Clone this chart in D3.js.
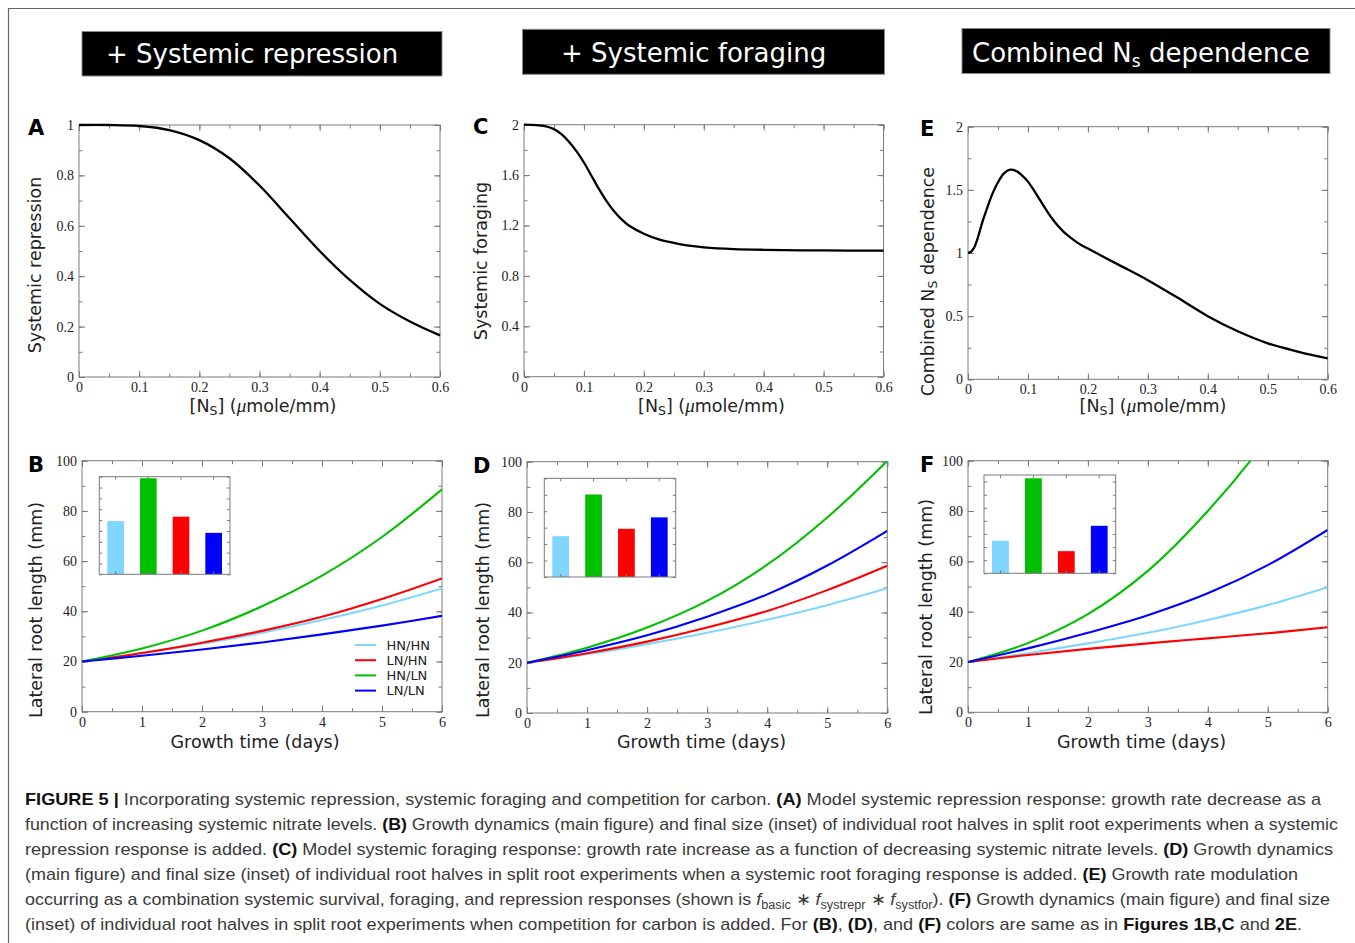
<!DOCTYPE html>
<html>
<head>
<meta charset="utf-8">
<script src="https://cdn.jsdelivr.net/npm/d3@7"></script>
<style>
  body { margin: 0; background: #fff; }
  svg { display: block; }
</style>
</head>
<body>
<svg id="fig" width="1355" height="943"></svg>
<script>
// ---- data ----
const nsRepr = [0, 0.05, 0.1, 0.15, 0.2, 0.25, 0.3, 0.35, 0.4, 0.45, 0.5, 0.55, 0.6];
const repression = [1.0, 1.0, 0.996, 0.98, 0.94, 0.868, 0.76, 0.63, 0.5, 0.385, 0.29, 0.22, 0.165];

const nsForag = [0, 0.02, 0.035, 0.05, 0.0625, 0.075, 0.0875, 0.1, 0.1125, 0.125, 0.1375, 0.15, 0.1625, 0.175,
                 0.2, 0.225, 0.25, 0.275, 0.3, 0.35, 0.4, 0.5, 0.6];
const foraging = [2.0, 1.997, 1.988, 1.965, 1.925, 1.865, 1.79, 1.70, 1.595, 1.49, 1.395, 1.315, 1.25, 1.20,
                  1.135, 1.09, 1.062, 1.04, 1.027, 1.013, 1.007, 1.002, 1.0];

const nsComb = [0, 0.005, 0.01, 0.015, 0.02, 0.025, 0.03, 0.04, 0.05, 0.06, 0.07, 0.08, 0.09, 0.1,
                0.11, 0.12, 0.13, 0.14, 0.15, 0.16, 0.17, 0.18, 0.19, 0.2,
                0.25, 0.3, 0.35, 0.4, 0.45, 0.5, 0.55, 0.6];
const combined = [1.0, 1.01, 1.04, 1.10, 1.18, 1.26, 1.33, 1.46, 1.56, 1.63, 1.66, 1.65, 1.615, 1.565,
                  1.495, 1.42, 1.345, 1.275, 1.215, 1.165, 1.125, 1.09, 1.06, 1.035,
                  0.91, 0.785, 0.645, 0.5, 0.38, 0.285, 0.22, 0.165];

const days = [0, 1, 2, 3, 4, 5, 6];
const groups = ["HN/HN", "LN/HN", "HN/LN", "LN/LN"];
const insetOrder = ["HN/HN", "HN/LN", "LN/HN", "LN/LN"];
const groupColor = { "HN/HN": "#7fd6ff", "LN/HN": "#ff0000", "HN/LN": "#00c000", "LN/LN": "#0000ff" };

// root length (mm) per day, panel B (+ systemic repression)
const lenB = {
  "HN/HN": [20, 23.3, 27.1, 31.5, 36.5, 42.3, 49.1],
  "LN/HN": [20, 23.4, 27.5, 32.2, 37.8, 44.9, 53.1],
  "HN/LN": [20, 25.2, 32.3, 42.0, 54.2, 69.6, 88.6],
  "LN/LN": [20, 22.3, 24.8, 27.6, 30.8, 34.3, 38.2]
};
// panel D (+ systemic foraging)
const lenD = {
  "HN/HN": [20, 23.4, 27.4, 31.9, 37.1, 42.9, 49.6],
  "LN/HN": [20, 23.8, 28.4, 34.0, 40.6, 48.9, 58.6],
  "HN/LN": [20, 26.0, 34.0, 44.6, 59.0, 77.8, 100.3],
  "LN/LN": [20, 25.0, 30.9, 38.3, 47.2, 58.7, 72.5]
};
// panel F (combined + carbon competition)
const lenF = {
  "HN/HN": [20, 23.5, 27.4, 31.6, 36.7, 42.6, 49.7],
  "LN/HN": [20, 22.8, 25.2, 27.4, 29.4, 31.4, 33.8],
  "HN/LN": [20, 27.5, 39.0, 56.2, 80.0, 109, 145],
  "LN/LN": [20, 25.4, 31.6, 38.6, 47.3, 58.5, 72.5]
};
const insetMax = { B: 90, D: 120, F: 150 };

const titles = ["+ Systemic repression", "+ Systemic foraging", "Combined N"];

// ---- drawing ----
const svg = d3.select("#fig");
const SERIF = "'Liberation Serif','Times New Roman',serif";
const SANS = "'DejaVu Sans',Verdana,sans-serif";
const fmt = d => String(+(+d).toFixed(2));
const smooth = d3.curveCatmullRom.alpha(0.5);

// outer frame (top and left edges visible)
svg.append("path").attr("d", "M8.5,943V8.5H1355").attr("fill", "none").attr("stroke", "#666").attr("stroke-width", 1.2);

// title banners
const banners = [
  { x: 82, y: 31.5, w: 360, h: 44.5, tx: 106, ty: 63.3 },
  { x: 522.5, y: 29.3, w: 362, h: 45, tx: 561, ty: 61.7 },
  { x: 962, y: 28.5, w: 368, h: 45, tx: 972, ty: 61.7 }
];
banners.forEach((b, i) => {
  svg.append("rect").attr("x", b.x).attr("y", b.y).attr("width", b.w).attr("height", b.h)
    .attr("fill", "#000").attr("stroke", "#888").attr("stroke-width", 1);
  const t = svg.append("text").attr("x", b.tx).attr("y", b.ty).attr("fill", "#fff")
    .attr("font-family", SANS).attr("font-size", 26).text(titles[i]);
  if (i === 2) {
    t.append("tspan").attr("font-size", 17).attr("dy", 5).text("s");
    t.append("tspan").attr("dy", -5).text(" dependence");
  }
});

function frameAxes(g, x, y, xt, yt) {
  const [x0, x1] = x.range();
  const [yb, ytop] = y.range();
  const specs = [
    [d3.axisBottom(x), `translate(0,${yb})`, xt.minor, 3.5, false],
    [d3.axisTop(x), `translate(0,${ytop})`, xt.minor, 3.5, false],
    [d3.axisBottom(x), `translate(0,${yb})`, xt.major, 6, true],
    [d3.axisTop(x), `translate(0,${ytop})`, xt.major, 6, false],
    [d3.axisLeft(y), `translate(${x0},0)`, yt.minor, 3.5, false],
    [d3.axisRight(y), `translate(${x1},0)`, yt.minor, 3.5, false],
    [d3.axisLeft(y), `translate(${x0},0)`, yt.major, 6, true],
    [d3.axisRight(y), `translate(${x1},0)`, yt.major, 6, false]
  ];
  specs.forEach(([ax, tr, vals, size, lab]) => {
    ax.tickValues(vals).tickSize(-size).tickPadding(lab ? 5 : 0).tickFormat(lab ? fmt : "");
    const ag = g.append("g").attr("transform", tr).call(ax)
      .attr("font-family", SERIF).attr("font-size", 14);
    ag.select(".domain").remove();
    ag.selectAll("line").attr("stroke", "#7a7a7a");
    ag.selectAll("text").attr("fill", "#222");
  });
  g.append("rect").attr("x", x0).attr("y", ytop).attr("width", x1 - x0).attr("height", yb - ytop)
    .attr("fill", "none").attr("stroke", "#7a7a7a").attr("stroke-width", 1);
}

function step(a, b, s) { return d3.range(a, b + s / 2, s); }

const nsTicks = { major: step(0, 0.6, 0.1), minor: step(0, 0.6, 0.05) };
const dayTicks = { major: step(0, 6, 1), minor: step(0, 6, 0.5) };
const lenTicks = { major: step(0, 100, 20), minor: step(0, 100, 10) };

function nsLabel(g, cx, by) {
  const t = g.append("text").attr("x", cx).attr("y", by).attr("text-anchor", "middle")
    .attr("font-family", SANS).attr("font-size", 17.5).attr("fill", "#222");
  t.append("tspan").text("[N");
  t.append("tspan").attr("font-size", 12.5).attr("dy", 3).text("S");
  t.append("tspan").attr("dy", -3).text("] (");
  t.append("tspan").attr("font-family", SERIF).attr("font-style", "italic").attr("font-size", 19).text("\u03bc");
  t.append("tspan").text("mole/mm)");
}

function yLabel(g, cx, cy, parts) {
  const t = g.append("text").attr("transform", `translate(${cx},${cy}) rotate(-90)`)
    .attr("text-anchor", "middle").attr("dy", "0.35em")
    .attr("font-family", SANS).attr("font-size", 17.5).attr("fill", "#222");
  parts.forEach(p => {
    const s = t.append("tspan").text(p.t);
    if (p.sub) s.attr("font-size", 12.5).attr("dy", 3);
    if (p.after) s.attr("dy", -3);
  });
}

function letter(g, x, y, s) {
  g.append("text").attr("x", x).attr("y", y).attr("font-family", SANS).attr("font-weight", "bold")
    .attr("font-size", 21).attr("fill", "#000").text(s);
}

// ---- top row: response functions ----
const topPanels = [
  { id: "A", box: [79, 125, 440, 377], ns: nsRepr, v: repression, yMax: 1,
    yt: { major: step(0, 1, 0.2), minor: step(0, 1, 0.1) },
    ylab: [{ t: "Systemic repression" }], ylx: 35, yly: 265, xlx: 263, lx: 28, ly: 135 },
  { id: "C", box: [524, 124.7, 883.5, 376.7], ns: nsForag, v: foraging, yMax: 2,
    yt: { major: step(0, 2, 0.4), minor: step(0, 2, 0.2) },
    ylab: [{ t: "Systemic foraging" }], ylx: 481, yly: 261, xlx: 711.5, lx: 473, ly: 134 },
  { id: "E", box: [968, 126.7, 1327.7, 379.3], ns: nsComb, v: combined, yMax: 2,
    yt: { major: step(0, 2, 0.5), minor: step(0, 2, 0.25) },
    ylab: [{ t: "Combined N" }, { t: "S", sub: true }, { t: " dependence", after: true }],
    ylx: 927.5, yly: 281.5, xlx: 1153, lx: 920, ly: 135.5 }
];

topPanels.forEach(p => {
  const g = svg.append("g");
  const x = d3.scaleLinear().domain([0, 0.6]).range([p.box[0], p.box[2]]);
  const y = d3.scaleLinear().domain([0, p.yMax]).range([p.box[3], p.box[1]]);
  frameAxes(g, x, y, nsTicks, p.yt);
  const line = d3.line().x((d, i) => x(p.ns[i])).y(d => y(d)).curve(smooth);
  g.append("path").attr("d", line(p.v)).attr("fill", "none").attr("stroke", "#000").attr("stroke-width", 2.3);
  yLabel(g, p.ylx, p.yly, p.ylab);
  nsLabel(g, p.xlx, 411.5);
  letter(g, p.lx, p.ly, p.id);
});

// ---- bottom row: growth dynamics ----
const botPanels = [
  { id: "B", box: [82, 460.7, 442, 711.7], data: lenB, inset: [99.3, 476.7, 230, 574.3],
    ylx: 36, yly: 610, xlx: 255, lx: 28, ly: 471.5, legend: true },
  { id: "D", box: [527, 461.7, 887.3, 713], data: lenD, inset: [544.3, 478.3, 675.7, 577],
    ylx: 482.5, yly: 610, xlx: 701.5, lx: 473, ly: 472.5 },
  { id: "F", box: [968, 460.7, 1327.7, 712.3], data: lenF, inset: [984, 475, 1115.7, 573.3],
    ylx: 925.5, yly: 607, xlx: 1141.5, lx: 920, ly: 471.5 }
];

botPanels.forEach(p => {
  const g = svg.append("g");
  const x = d3.scaleLinear().domain([0, 6]).range([p.box[0], p.box[2]]);
  const y = d3.scaleLinear().domain([0, 100]).range([p.box[3], p.box[1]]);
  const clipId = "clip" + p.id;
  g.append("clipPath").attr("id", clipId).append("rect")
    .attr("x", p.box[0]).attr("y", p.box[1]).attr("width", p.box[2] - p.box[0]).attr("height", p.box[3] - p.box[1]);
  frameAxes(g, x, y, dayTicks, lenTicks);
  const line = d3.line().x((d, i) => x(days[i])).y(d => y(d)).curve(smooth);
  g.append("g").attr("clip-path", `url(#${clipId})`)
    .selectAll("path").data(groups).join("path")
    .attr("d", k => line(p.data[k])).attr("fill", "none")
    .attr("stroke", k => groupColor[k]).attr("stroke-width", 2.1);

  // inset: final sizes
  const [ix0, iy0, ix1, iy1] = p.inset;
  const bx = d3.scaleBand().domain(insetOrder).range([ix0, ix1]).paddingInner(0.49).paddingOuter(0.245);
  const by = d3.scaleLinear().domain([0, insetMax[p.id]]).range([iy1, iy0]);
  const ig = g.append("g");
  ig.append("rect").attr("x", ix0).attr("y", iy0).attr("width", ix1 - ix0).attr("height", iy1 - iy0).attr("fill", "#fff");
  ig.selectAll("rect.bar").data(insetOrder).join("rect").attr("class", "bar")
    .attr("x", k => bx(k)).attr("width", bx.bandwidth())
    .attr("y", k => by(p.data[k][days.length - 1])).attr("height", k => iy1 - by(p.data[k][days.length - 1]))
    .attr("fill", k => groupColor[k]);
  const iyt = by.ticks(8);
  [[d3.axisLeft(by), `translate(${ix0},0)`], [d3.axisRight(by), `translate(${ix1},0)`]].forEach(([ax, tr]) => {
    const ag = ig.append("g").attr("transform", tr).call(ax.tickValues(iyt).tickSize(-3).tickFormat(""));
    ag.select(".domain").remove();
    ag.selectAll("line").attr("stroke", "#7a7a7a");
  });
  [[d3.axisBottom(bx), `translate(0,${iy1})`], [d3.axisTop(bx), `translate(0,${iy0})`]].forEach(([ax, tr]) => {
    const ag = ig.append("g").attr("transform", tr).call(ax.tickSize(-3).tickFormat(""));
    ag.select(".domain").remove();
    ag.selectAll("line").attr("stroke", "#7a7a7a");
  });
  ig.append("rect").attr("x", ix0).attr("y", iy0).attr("width", ix1 - ix0).attr("height", iy1 - iy0)
    .attr("fill", "none").attr("stroke", "#7a7a7a");

  yLabel(g, p.ylx, p.yly, [{ t: "Lateral root length (mm)" }]);
  g.append("text").attr("x", p.xlx).attr("y", 747.5).attr("text-anchor", "middle")
    .attr("font-family", SANS).attr("font-size", 17.5).attr("fill", "#222").text("Growth time (days)");
  letter(g, p.lx, p.ly, p.id);

  if (p.legend) {
    const lg = g.append("g");
    groups.forEach((k, i) => {
      const yy = 645 + i * 15.2;
      lg.append("line").attr("x1", 355).attr("x2", 376).attr("y1", yy).attr("y2", yy)
        .attr("stroke", groupColor[k]).attr("stroke-width", 2);
      lg.append("text").attr("x", 386.5).attr("y", yy).attr("dy", "0.36em")
        .attr("font-family", SANS).attr("font-size", 13).attr("fill", "#222").text(k);
    });
  }
});

// ---- caption ----
const captionLines = [
  { end: 1321, parts: [["b", "FIGURE 5 |"], ["", " Incorporating systemic repression, systemic foraging and competition for carbon. "], ["b", "(A)"], ["", " Model systemic repression response: growth rate decrease as a"]] },
  { end: 1338, parts: [["", "function of increasing systemic nitrate levels. "], ["b", "(B)"], ["", " Growth dynamics (main figure) and final size (inset) of individual root halves in split root experiments when a systemic"]] },
  { end: 1333, parts: [["", "repression response is added. "], ["b", "(C)"], ["", " Model systemic foraging response: growth rate increase as a function of decreasing systemic nitrate levels. "], ["b", "(D)"], ["", " Growth dynamics"]] },
  { end: 1298, parts: [["", "(main figure) and final size (inset) of individual root halves in split root experiments when a systemic root foraging response is added. "], ["b", "(E)"], ["", " Growth rate modulation"]] },
  { end: 1330, parts: [["", "occurring as a combination systemic survival, foraging, and repression responses (shown is "], ["i", "f"], ["sub", "basic"], ["", " \u2217 "], ["i", "f"], ["sub", "systrepr"], ["", " \u2217 "], ["i", "f"], ["sub", "systfor"], ["", "). "], ["b", "(F)"], ["", " Growth dynamics (main figure) and final size"]] },
  { end: 1302, parts: [["", "(inset) of individual root halves in split root experiments when competition for carbon is added. For "], ["b", "(B)"], ["", ", "], ["b", "(D)"], ["", ", and "], ["b", "(F)"], ["", " colors are same as in "], ["b", "Figures 1B,C"], ["", " and "], ["b", "2E"], ["", "."]] }
];

const cap = svg.append("g").attr("font-family", "'Liberation Sans',Arial,sans-serif").attr("font-size", 17).attr("fill", "#3a3a3a");
captionLines.forEach((ln, i) => {
  const t = cap.append("text").attr("x", 25).attr("y", 805 + i * 25)
    .attr("textLength", ln.end - 25).attr("lengthAdjust", "spacingAndGlyphs");
  let shifted = false;
  ln.parts.forEach(([kind, s]) => {
    const ts = t.append("tspan").text(s);
    if (shifted && kind !== "sub") { ts.attr("dy", -4); shifted = false; }
    if (kind === "b") ts.attr("font-weight", "bold").attr("fill", "#111");
    if (kind === "i") ts.attr("font-style", "italic");
    if (kind === "sub") { ts.attr("font-size", 12); if (!shifted) { ts.attr("dy", 4); shifted = true; } }
  });
});
</script>
</body>
</html>
